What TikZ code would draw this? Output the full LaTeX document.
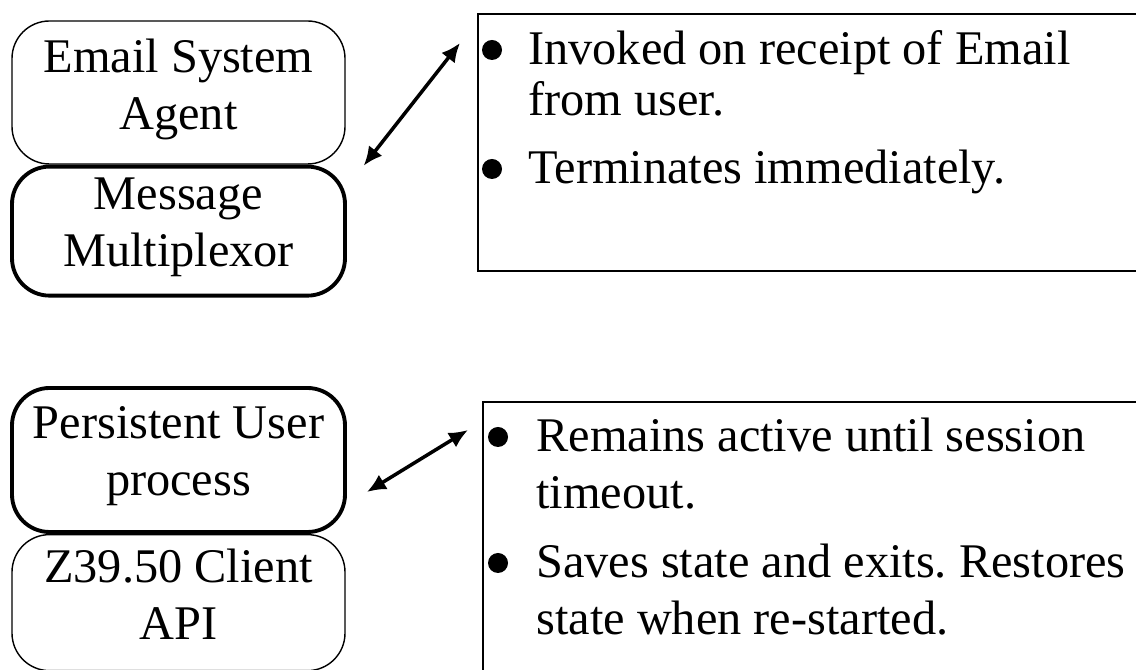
\documentclass[tikz,border=0pt]{standalone}
\usepackage{fontspec}
\setmainfont{Liberation Serif}
\usetikzlibrary{arrows.meta,positioning}

\begin{document}
\begin{tikzpicture}[
    every node/.style={font=\fontsize{27.5}{32.4}\selectfont},
    node distance=0pt,
    proc/.style={rectangle,rounded corners=0.75cm,draw,line width=0.8pt,
      minimum width=6.66cm,align=center},
    procbold/.style={proc,line width=2.2pt},
    note/.style={rectangle,draw,line width=1.3pt,anchor=north west},
    item/.style={anchor=north west,align=left,inner sep=0pt},
    dot/.style={circle,fill,inner sep=0pt,minimum size=0.4cm},
    arrow/.style={{Latex[length=0.38cm,width=0.34cm]}-{Latex[length=0.38cm,width=0.34cm]},line width=2pt}
  ]
    \useasboundingbox (0,0) rectangle (22.72,13.4);
    \clip (0,0) rectangle (22.72,13.4);

    \node[proc,minimum height=2.86cm] (esa) at (3.57,11.55) {Email System\\Agent\strut};
    \node[procbold,minimum height=2.58cm,below=of esa] (mux) {Message\\Multiplexor\strut};

    \node[procbold,minimum height=2.88cm] (pup) at (3.57,4.20) {Persistent User\\process\strut};
    \node[proc,minimum height=2.72cm,below=of pup] (zapi) {Z39.50 Client\\API\strut};

    \node[note,minimum width=13.66cm,minimum height=5.14cm] (note1) at (9.54,13.14) {};
    \node[note,minimum width=13.56cm,minimum height=5.8cm] (note2) at (9.64,5.38) {};

    \node[item] (inv) at ([xshift=1.02cm,yshift=-0.22cm]note1.north west) {\strut Invoked on receipt of Email\\[-0.12cm]from user.};
    \node[item] (term) at ([xshift=1.02cm,yshift=-2.6cm]note1.north west) {\strut Terminates immediately.};
    \node[dot] (d1) at ([xshift=-0.72cm,yshift=-0.52cm]inv.north west) {};
    \node[dot] (d2) at ([xshift=-0.72cm,yshift=-0.52cm]term.north west) {};

    \node[item] (rem) at ([xshift=1.08cm,yshift=-0.2cm]note2.north west) {\strut Remains active until session\\timeout.};
    \node[item] (sav) at ([xshift=1.08cm,yshift=-2.72cm]note2.north west) {\strut Saves state and exits.\ Restores\\state when re-started.};
    \node[dot] (d3) at ([xshift=-0.76cm,yshift=-0.52cm]rem.north west) {};
    \node[dot] (d4) at ([xshift=-0.76cm,yshift=-0.52cm]sav.north west) {};

    \coordinate (a1) at ([xshift=0.36cm,yshift=-0.02cm]esa.south east);
    \coordinate (a2) at ([xshift=-0.34cm,yshift=-0.6cm]note1.north west);
    \draw[arrow] (a1) -- (a2);

    \coordinate (b1) at ([xshift=0.4cm,yshift=-0.64cm]pup.east);
    \coordinate (b2) at ([xshift=-0.28cm,yshift=-0.58cm]note2.north west);
    \draw[arrow] (b1) -- (b2);
  \end{tikzpicture}
\end{document}
